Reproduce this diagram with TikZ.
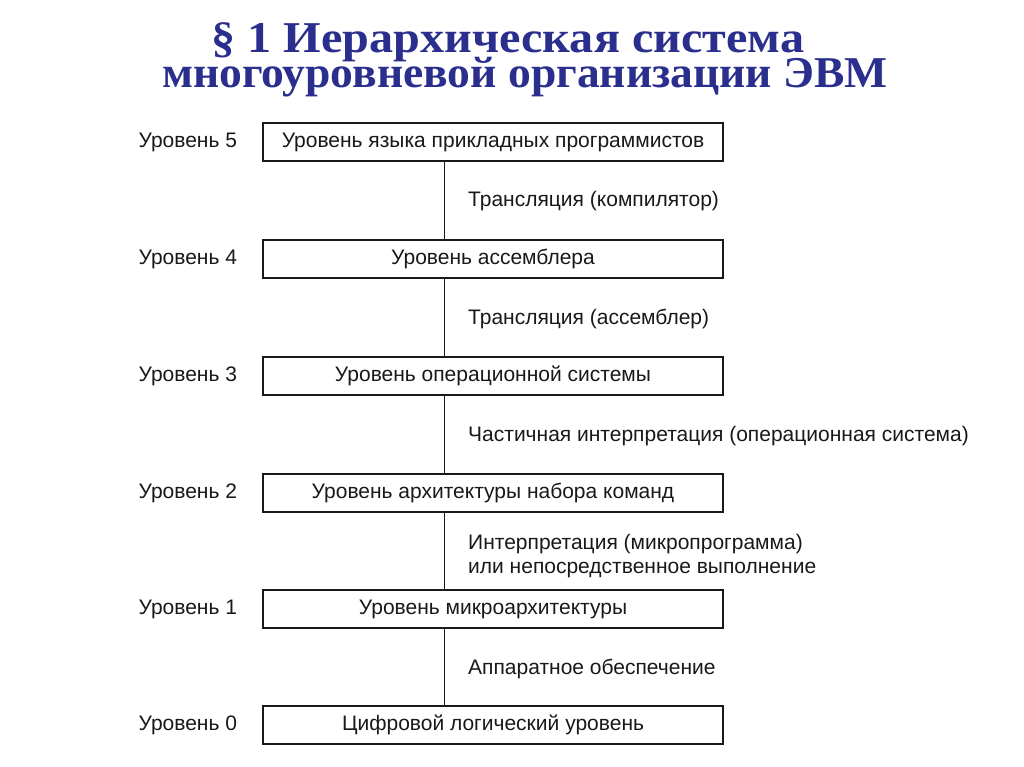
\documentclass[tikz,border=0pt]{standalone}
\usepackage{fontspec}
\setmainfont{Liberation Sans}
\newfontfamily\titlefont{Liberation Serif}
\definecolor{titleblue}{RGB}{42,46,140}
\definecolor{ink}{RGB}{25,25,25}
\begin{document}
\begin{tikzpicture}[x=1pt,y=1pt,
  levelbox/.style={draw=ink,line width=1.6pt,minimum width=460pt,minimum height=38pt,inner sep=0pt,font=\fontsize{21}{24}\selectfont,text=ink},
  levellabel/.style={font=\fontsize{21}{24}\selectfont,text=ink,inner sep=0pt},
  edgelabel/.style={anchor=west,font=\fontsize{21}{24}\selectfont,text=ink,align=left,inner sep=0pt},
  titleline/.style={anchor=base,font=\titlefont\bfseries\fontsize{44}{44}\selectfont,text=titleblue,inner sep=0pt},
  link/.style={draw=ink,line width=1pt}]
\useasboundingbox (0,0) rectangle (1024,-767);
\fill[white] (0,0) rectangle (1024,-767);
\node[titleline] (title1) at (508,-53) {\scalebox{1.095}[1]{§ 1 Иерархическая система}};
\node[titleline] (title2) at (525,-88) {\scalebox{1.035}[1]{многоуровневой организации ЭВМ}};
\node[levelbox] (b5) at (493,-142) {Уровень языка прикладных программистов};
\node[levelbox] (b4) at (493,-259) {Уровень ассемблера};
\node[levelbox] (b3) at (493,-376) {Уровень операционной системы};
\node[levelbox] (b2) at (493,-493) {Уровень архитектуры набора команд};
\node[levelbox] (b1) at (493,-609) {Уровень микроархитектуры};
\node[levelbox] (b0) at (493,-725) {Цифровой логический уровень};
\foreach \i in {0,...,5} {
  \node[levellabel,anchor=east] (l\i) at ([xshift=-25pt]b\i.west) {Уровень \i};
}
\foreach \a/\b in {b5/b4,b4/b3,b3/b2,b2/b1,b1/b0} {
  \path[link] ([xshift=-49pt]\a.south) -- ([xshift=-49pt]\b.north);
}
\node[edgelabel] (e54) at (468,-201) {Трансляция (компилятор)};
\node[edgelabel] (e43) at (468,-319) {Трансляция (ассемблер)};
\node[edgelabel] (e32) at (468,-436) {Частичная интерпретация (операционная система)};
\node[edgelabel] (e21) at (468,-556) {Интерпретация (микропрограмма)\\или непосредственное выполнение};
\node[edgelabel] (e10) at (468,-669) {Аппаратное обеспечение};
\end{tikzpicture}
\end{document}
